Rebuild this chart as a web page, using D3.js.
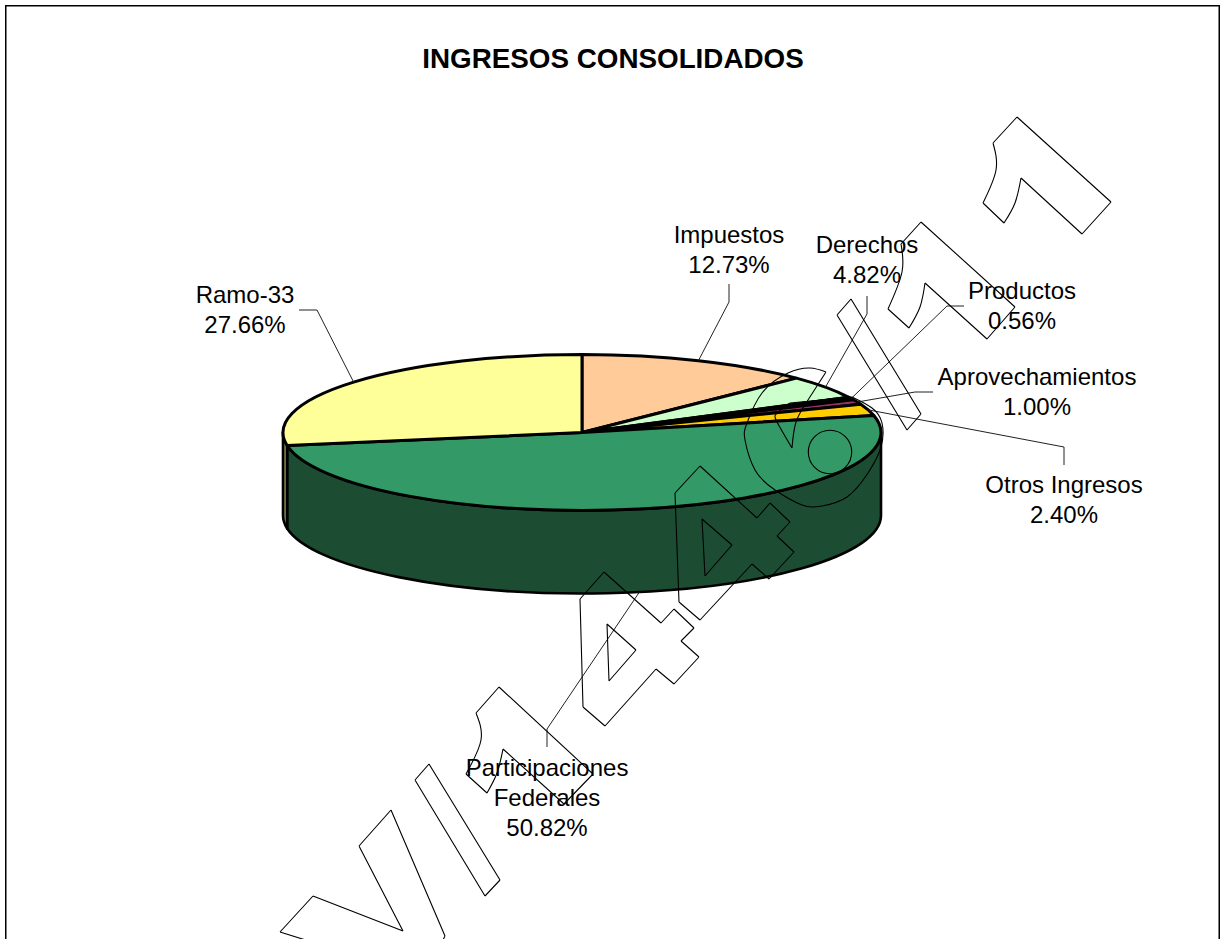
<!DOCTYPE html>
<html>
<head>
<meta charset="utf-8">
<style>html,body{margin:0;padding:0;background:#fff;overflow:hidden}svg{display:block}text{font-family:"Liberation Sans",Arial,sans-serif;fill:#000}</style>
<script src="https://cdn.jsdelivr.net/npm/d3@7/dist/d3.min.js"></script>
</head>
<body>
<svg id="chart" width="1220" height="939"></svg>
<script>
// ---- data
const chartTitle = "INGRESOS CONSOLIDADOS";
const categories = ["Impuestos","Derechos","Productos","Aprovechamientos","Otros Ingresos","Participaciones Federales","Ramo-33"];
const shares = [12.73,4.82,0.56,1.00,2.40,50.82,27.66];
const shareLabels = ["12.73%","4.82%","0.56%","1.00%","2.40%","50.82%","27.66%"];
const labelLines = [["Impuestos"],["Derechos"],["Productos"],["Aprovechamientos"],["Otros Ingresos"],["Participaciones","Federales"],["Ramo-33"]];
// ---- styles
const topColors  = ["#FFCC99","#CCFFCC","#808033","#993366","#FFCC00","#339966","#FFFF99"];
const sideColors = ["#806650","#668066","#40401A","#4D1A33","#806600","#1C4D33","#80804D"];
// ---- layout
const cx=582, cy=432.5, rx=299, ry=78, depth=83;
const labelX  = [729,867,1022,1037,1064,547,245];
const labelY  = [242.5,253,299,385,492.5,775.5,302.5];
const leaderStart = [[729,284],[867,296],[964,306],[933,392],[1064,465],[547,747],[299,310]];
const leaderKnee  = [[729,302],[867,314],[947,306],[915,392],[1064,447],[547,729],[317,310]];
const leaderOnWall = [false,false,false,false,false,true,false];
// ---- overlay outline glyphs (each sub-list is one stroke run; more than two points = smooth)
const overlayGlyphs = [
 [[[1017,117],[993,143]],[[993,143],[996,170],[983,203]],[[983,203],[1004,223]],[[1004,223],[1015,203],[1021,178]],[[1021,178],[1082,234]],[[1082,234],[1111,202]],[[1111,202],[1017,117]]],
 [[[921,222],[901,244]],[[901,244],[902,272],[888,309]],[[888,309],[909,328]],[[909,328],[920,307],[925,283]],[[925,283],[987,339]],[[987,339],[1015,307]],[[1015,307],[921,222]]],
 [[[851,299],[837,315]],[[837,315],[907,430]],[[907,430],[921,414]],[[921,414],[851,299]]],
 [[[826,372],[810,368],[788,373],[762,393],[747,423],[745,440],[755,470],[775,490],[802,505],[822,506],[847,497],[868,473],[881,447],[882,423],[872,408],[852,397]],[[852,397],[790,403]],[[790,403],[777,413],[777,422],[792,448]],[[792,448],[796,422],[808,400],[826,372]]],
 [[[700,466],[675,493]],[[675,493],[679,602]],[[679,602],[700,620]],[[700,620],[752,564]],[[752,564],[769,579]],[[769,579],[794,552]],[[794,552],[777,536]],[[777,536],[790,522]],[[790,522],[770,503]],[[770,503],[757,518]],[[757,518],[700,466]]],
 [[[702,519],[732,545]],[[732,545],[705,576]],[[705,576],[702,519]]],
 [[[604,572],[580,599]],[[580,599],[583,707]],[[583,707],[605,726]],[[605,726],[656,669]],[[656,669],[674,684]],[[674,684],[699,657]],[[699,657],[681,641]],[[681,641],[694,628]],[[694,628],[674,609]],[[674,609],[661,623]],[[661,623],[604,572]]],
 [[[607,624],[636,650]],[[636,650],[609,681]],[[609,681],[607,624]]],
 [[[499,687],[476,713]],[[476,713],[481,740],[466,774]],[[466,774],[487,793]],[[487,793],[497,773],[503,749]],[[503,749],[564,804]],[[564,804],[593,774]],[[593,774],[499,687]]],
 [[[429,764],[415,780]],[[415,780],[485,896]],[[485,896],[500,880]],[[500,880],[429,764]]],
 [[[391,810],[359,846]],[[359,846],[403,931]],[[403,931],[313,896]],[[313,896],[280,932]],[[280,932],[312,942]]],
 [[[391,810],[445,936]],[[445,936],[442,942]]]
];
const overlayRings = [[830,452,21.7]];

const svg = d3.select("#chart");
// frame
svg.append("rect").attr("x",5.75).attr("y",5.75).attr("width",1213.5).attr("height",1000)
   .attr("fill","#fff").attr("stroke","#000").attr("stroke-width",1.5);
// title
svg.append("text").attr("x",613).attr("y",68).attr("text-anchor","middle")
   .attr("font-size",27.8).attr("font-weight","bold").text(chartTitle);

// pie layout (clockwise from 12 o'clock, data order)
const pie = d3.pie().sort(null).value(d=>d)(shares);
const ex = a => cx + rx*Math.sin(a);
const ey = a => cy - ry*Math.cos(a);

// side walls: visible part of the rim runs from 3 o'clock to 9 o'clock
const wallFrom = Math.PI/2, wallTo = 3*Math.PI/2;
const walls = pie.map((p,i)=>({i,a0:Math.max(p.startAngle,wallFrom),a1:Math.min(p.endAngle,wallTo)})).filter(w=>w.a1>w.a0);
svg.append("g").selectAll("path").data(walls).join("path")
   .attr("d",w=>`M${ex(w.a0)},${ey(w.a0)}A${rx},${ry} 0 ${w.a1-w.a0>Math.PI?1:0} 1 ${ex(w.a1)},${ey(w.a1)}`+
                `L${ex(w.a1)},${ey(w.a1)+depth}A${rx},${ry} 0 ${w.a1-w.a0>Math.PI?1:0} 0 ${ex(w.a0)},${ey(w.a0)+depth}Z`)
   .attr("fill",w=>sideColors[w.i]).attr("stroke","#000").attr("stroke-width",2.6).attr("stroke-linejoin","round");

// top face: circular d3.arc flattened to an ellipse
const arc = d3.arc().innerRadius(0).outerRadius(rx);
svg.append("g").attr("transform",`translate(${cx},${cy}) scale(1,${ry/rx})`)
   .selectAll("path").data(pie).join("path")
   .attr("d",arc).attr("fill",(d,i)=>topColors[i])
   .attr("stroke","#000").attr("stroke-width",3).attr("vector-effect","non-scaling-stroke").attr("stroke-linejoin","round");

// leaders
const mid = p => (p.startAngle+p.endAngle)/2;
const leader = d3.line();
svg.append("g").selectAll("path").data(pie).join("path")
   .attr("d",(p,i)=>leader([leaderStart[i],leaderKnee[i],[ex(mid(p)),ey(mid(p))+(leaderOnWall[i]?depth:0)]]))
   .attr("fill","none").attr("stroke","#222").attr("stroke-width",1);

// labels
const lineStep = 30.2;
const labels = svg.append("g").attr("text-anchor","middle");
categories.forEach((c,i)=>{
  [...labelLines[i],shareLabels[i]].forEach((t,j)=>{
    labels.append("text").attr("x",labelX[i]).attr("y",labelY[i]+j*lineStep).attr("font-size",24).text(t);
  });
});

// overlay outlines
const straight = d3.line(), smooth = d3.line().curve(d3.curveNatural);
const overlay = svg.append("g").attr("fill","none").attr("stroke","#000").attr("stroke-width",1.1).attr("stroke-linejoin","round");
overlay.selectAll("path").data(overlayGlyphs).join("path")
   .attr("d",g=>g.map(s=>(s.length>2?smooth:straight)(s)).join(""));
overlay.selectAll("circle").data(overlayRings).join("circle")
   .attr("cx",d=>d[0]).attr("cy",d=>d[1]).attr("r",d=>d[2]);
</script>
</body>
</html>
